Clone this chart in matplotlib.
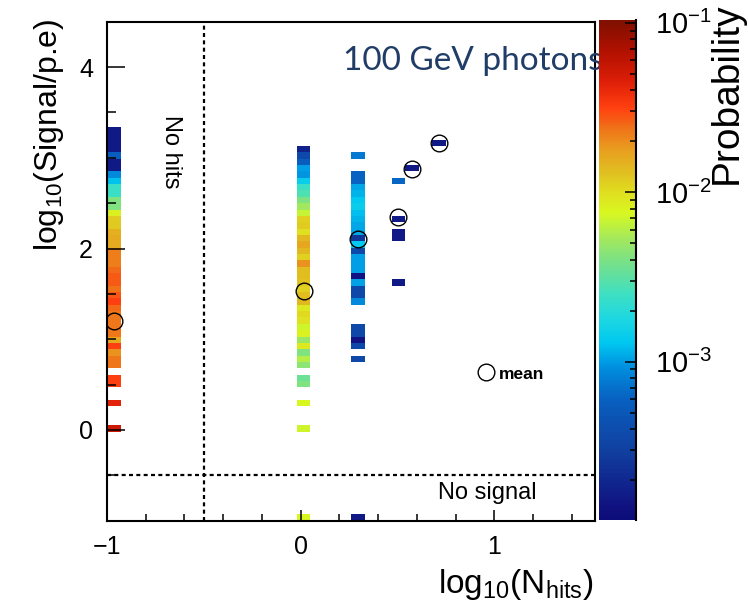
import numpy as np
import matplotlib
matplotlib.use('Agg')
import matplotlib.pyplot as plt
from matplotlib.colors import LinearSegmentedColormap, LogNorm
from matplotlib.ticker import MultipleLocator, LogLocator, FixedLocator
from matplotlib.lines import Line2D

plt.rcParams['font.family'] = ['Liberation Sans', 'DejaVu Sans']
plt.rcParams['mathtext.fontset'] = 'custom'
plt.rcParams['mathtext.rm'] = 'Liberation Sans'
plt.rcParams['mathtext.it'] = 'Liberation Sans:italic'
plt.rcParams['mathtext.bf'] = 'Liberation Sans:bold'

nan = np.nan

# log10(N_hits) of each filled column, -1 means "no hits"
log_nhits = [-1.0, 0.0, np.log10(2), np.log10(3), np.log10(4), np.log10(5)]

# first signal bin of each column (bins of 0.07 starting at -1)
first_bin = [14, 14, 25, 37, 55, 59]

# log10(probability) per signal bin, going up from first_bin
col_nohits = [-1.28, nan, nan, nan, -1.37, nan, nan, -1.5, -1.5, nan,
              -1.63, -1.63, -1.72, -1.5, -1.8, -1.63, -1.63, -1.63, -1.63, -1.6,
              -1.5, -1.55, -1.62, -1.57, -1.57, -1.6, -1.66, -1.66, -1.66, -1.8,
              -1.8, -1.82, -1.92, -1.94, -2.08, -2.38, -2.38, -2.62, -2.62, -2.9,
              -3.05, -3.8, -3.8, -3.25, -3.8, -3.8, -3.8, -3.8]
col_1hit = [-2.15, nan, nan, nan, -2.12, nan, nan, -2.38, -2.45, nan,
            -2.35, -2.22, -2.38, -2.05, -2.3, -2.1, -2.15, -2.02, -1.98, -2.05,
            -1.85, -1.88, -1.95, -1.9, -1.88, -1.88, -1.72, -1.95, -1.85, -1.78,
            -1.85, -2.0, -1.93, -1.95, -2.18, -2.28, -2.4, -2.55, -2.62, -2.85,
            -3.02, -3.0, -3.25, -3.45, -3.75]
col_2hits = [-3.45, nan, -3.45, -3.85, -3.45, -3.45, nan, nan, nan, -3.05,
             -3.45, -3.45, -2.98, -3.85, -3.0, -3.0, -3.0, -3.45, -2.88, -3.6,
             -2.97, -2.97, -2.94, -2.92, -2.85, -2.88, -2.94, -2.97, -3.22, -3.22,
             nan, nan, -3.12]
col_3hits = [-3.8, nan, nan, nan, nan, nan, nan, -3.8, -3.8, nan,
             -3.8, nan, nan, nan, nan, nan, -3.2]
col_4hits = [-3.8]
col_5hits = [-3.8]
columns = [col_nohits, col_1hit, col_2hits, col_3hits, col_4hits, col_5hits]

# "no signal" row (signal set to -1)
no_signal = [nan, -2.12, -3.8, nan, nan, nan]

# mean log10(signal) per column
mean_signal = [1.2, 1.53, 2.10, 2.35, 2.88, 3.16]

bin_w = 0.07
x_edges = -1 + bin_w * np.arange(37)
y_edges = -1 + bin_w * np.arange(81)

Z = np.full((80, 36), nan)
mean_x = []
for lx, k0, vals, ns in zip(log_nhits, first_bin, columns, no_signal):
    ix = int(np.floor((lx + 1) / bin_w + 1e-6))
    Z[k0:k0 + len(vals), ix] = vals
    Z[0, ix] = ns
    mean_x.append(x_edges[ix] + bin_w / 2)
P = np.ma.masked_invalid(10.0 ** Z)

# rainbow palette like the ROOT one
cmap = LinearSegmentedColormap.from_list('rootrainbow', [
    (0.0, '#0c0c7a'), (0.02, '#10107f'), (0.14, '#1040a0'), (0.24, '#0860c0'),
    (0.306, '#0090e0'), (0.354, '#00c8f0'), (0.406, '#20d8e0'), (0.454, '#40e0c0'),
    (0.506, '#70e090'), (0.56, '#a0e860'), (0.614, '#d8f820'), (0.654, '#e0e020'),
    (0.694, '#e0c020'), (0.74, '#e8a020'), (0.786, '#f07018'), (0.826, '#ff4010'),
    (0.874, '#e02008'), (0.94, '#b01000'), (1.0, '#801000')])

W, H = 748, 613
fig = plt.figure(figsize=(W / 100, H / 100), dpi=100)
ax = fig.add_axes([107 / W, 1 - 520.7 / H, 488 / W, 499 / H])
cax = fig.add_axes([599 / W, 1 - 520 / H, 37 / W, 500 / H])

mesh = ax.pcolormesh(x_edges, y_edges, P, cmap=cmap,
                     norm=LogNorm(vmin=1.16e-4, vmax=0.104), shading='flat')

ax.plot(mean_x, mean_signal, 'o', ms=12, mfc='none', mec='black', mew=1.0, zorder=5)

dots = (0, (1.8, 1.5))
ax.axvline(-0.5, color='black', lw=1.6, ls=dots)
ax.axhline(-0.5, color='black', lw=1.6, ls=dots)

ax.set_xlim(-1, 1.52)
ax.set_ylim(-1, 4.5)
ax.xaxis.set_major_locator(FixedLocator([-1, 0, 1]))
ax.xaxis.set_minor_locator(MultipleLocator(0.2))
ax.yaxis.set_major_locator(MultipleLocator(2))
ax.yaxis.set_minor_locator(MultipleLocator(0.5))
ax.tick_params(which='both', direction='in', top=False, right=False,
               labelsize=18, width=1.1)
ax.tick_params(axis='x', which='major', length=8, pad=10)
ax.tick_params(axis='x', which='minor', length=5)
ax.tick_params(axis='y', which='major', length=13, pad=10)
ax.tick_params(axis='y', which='minor', length=6.5)
for s in ax.spines.values():
    s.set_linewidth(1.5)

ax.set_xlabel(r'log$_{10}$(N$_{\mathrm{hits}}$)', fontsize=24, loc='right')
ax.xaxis.set_label_coords(0.998, -0.093)
ax.set_ylabel(r'log$_{10}$(Signal/p.e)', fontsize=23, loc='top')
ax.yaxis.set_label_coords(-0.084, 1.007)

ax.text(-0.668, 3.07, 'No hits', rotation=270, ha='center', va='center', fontsize=17)
ax.text(0.964, -0.69, 'No signal', ha='center', va='center', fontsize=17)
ax.text(0.4836, 0.903, '100 GeV photons', transform=ax.transAxes, ha='left',
        va='baseline', fontsize=24, family='Lato', color='#203d67', clip_on=False)

h = Line2D([], [], ls='none', marker='o', ms=12, mfc='none', mec='black', mew=1.0)
ax.legend([h], ['mean'], loc='center left', bbox_to_anchor=(0.7588, 0.294),
          frameon=False, handlelength=1.0, handletextpad=0.25, borderpad=0,
          borderaxespad=0, prop={'weight': 'bold', 'size': 12.5})

cb = fig.colorbar(mesh, cax=cax)
cb.outline.set_visible(False)
cax.yaxis.set_major_locator(LogLocator(base=10))
cax.yaxis.set_minor_locator(LogLocator(base=10, subs=np.arange(2, 10)))
cax.tick_params(which='both', direction='in', right=True, left=False,
                labelsize=21, width=1.1, pad=14)
cax.tick_params(which='major', length=8)
cax.tick_params(which='minor', length=4.5)
cax.plot([1, 1], [0, 1], transform=cax.transAxes, color='black', lw=1.5, clip_on=False)
fig.text(727 / W, 1 - 2 / H, 'Probability', rotation=90, ha='center', va='top', fontsize=28)

fig.savefig('out.png', dpi=100)
